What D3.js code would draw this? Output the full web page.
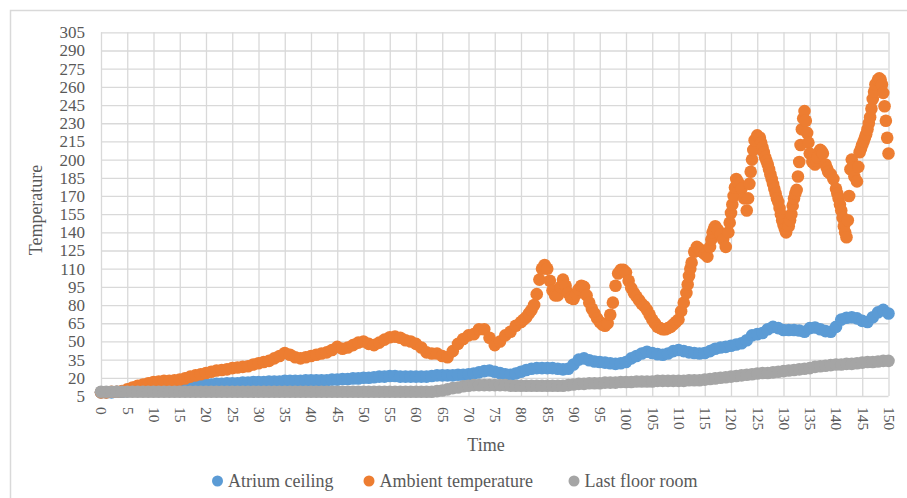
<!DOCTYPE html>
<html><head><meta charset="utf-8">
<script src="https://cdn.jsdelivr.net/npm/d3@7"></script>
<style>body{margin:0;background:#fff} svg{display:block}</style>
</head><body><svg id="c" width="907" height="498"></svg>
<script>
const time = d3.range(0, 151);
const yTicks = d3.range(5, 306, 15);
const xTicks = d3.range(0, 151, 5);
const seriesNames = ["Atrium ceiling", "Ambient temperature", "Last floor room"];
const seriesColors = ["#5b9bd5", "#ed7d31", "#a5a5a5"];

const atriumTemp = [
  8, 8, 8, 8.5, 8.5,
  9, 9.5, 10, 10, 10.5, 11, 11, 11.5, 12, 12, 12.5, 13, 13, 13.5,
  14, 14.5, 14.5, 15, 15, 15.5, 15.5, 15.5, 16, 16, 16.5, 16.5, 16.5, 17, 17, 17, 17.5, 17.5, 17.5, 17.5,
  18, 18, 18, 18, 18, 18.5, 18.5, 19, 19, 19.5, 19.5, 20, 20, 20.5, 21, 21, 21.5, 21.5, 21, 21, 21, 21, 21, 21, 21.5, 22,
  22, 22, 22, 22.5, 22.5, 23, 23.5, 24.5, 25.5, 26, 25, 24, 23, 22.5, 23.5, 25, 26.5, 27.5, 28, 28, 28, 28, 27.5, 27, 27.5,
  31, 35, 36, 34.5, 33.5, 33, 32.5, 32, 31.5, 32,
  33, 36, 38, 40, 41.5, 40.5, 39.5, 39, 40, 42, 43, 42, 41, 40.5, 40, 40.5, 42, 44, 45, 45.5,
  46.5, 47.5, 48.5, 51, 55, 56, 57, 60, 62, 61, 59.5, 59.5, 59.5, 59, 58, 61, 61.5, 60, 58.5, 58,
  62, 68, 69.5, 70, 69, 67, 66, 70, 74, 76, 73
];

const lastFloorTemp = [
  8.5, 8.5, 8.5, 8.5, 8.5, 8.5, 8.5, 8.5, 8.5, 8.5, 8.5, 8.5, 8.5, 8.5, 8.5, 8.5, 8.5, 8.5, 8.5, 8.5,
  8.5, 8.5, 8.5, 8.5, 8.5, 8.5, 8.5, 8.5, 8.5, 8.5, 8.5, 8.5, 8.5, 8.5, 8.5, 8.5, 8.5, 8.5, 8.5, 8.5,
  8.5, 8.5, 8.5, 8.5, 8.5, 8.5, 8.5, 8.5, 8.5, 8.5, 8.5, 8.5, 8.5, 8.5, 8.5, 8.5, 8.5, 8.5, 8.5, 8.5,
  8.5, 8.5, 8.5, 8.5, 9,
  9.5, 10.5, 11.5, 12, 13, 13.5,
  14, 14, 14, 14, 14, 14, 14, 13.5, 13.5, 13.5, 13.5, 13.5, 13.5, 13.5, 13.5, 13.5, 13.5, 13.5, 14, 14.5,
  15, 15, 15.5, 15.5, 15.5, 16, 16, 16, 16.5, 16.5,
  16.5, 17, 17, 17, 17, 17.5, 17.5, 17.5, 17.5, 17.5,
  17.5, 18, 18, 18, 18.5, 19, 19.5, 20, 20.5, 21,
  21.5, 22, 22.5, 23, 23.5, 24, 24, 24.5, 25, 25.5,
  26, 26.5, 27, 27.5, 28, 29, 29.5, 30, 30.5, 31,
  31, 31.5, 31.5, 32, 32.5, 33, 33, 33.5, 34, 34
];

// [time, temperature] pairs (denser where the curve is steep)
const ambientPoints = [
  [0,8],[1,8],[2,8.5],[3,8.5],[4,9],[5,10.5],[6,12],[7,13.5],[8,14.5],[9,15.5],
  [10,16.5],[11,17],[12,17.5],[13,17.5],[14,18],[15,18.5],[16,19.5],[17,21],[18,22],[19,23],
  [20,24],[21,25],[22,26],[23,26.5],[24,27],[25,28],[26,28.5],[27,29],[28,29.5],[29,31],
  [30,32],[31,33],[32,34],[33,36],[34,38],[35,40.5],[36,39],[37,37],[38,36],[39,37],
  [40,38],[41,39],[42,40],[43,41],[44,43],[45,45.5],[46,44],[47,45],[48,47],[49,49],
  [50,50],[51,48],[52,47],[53,49],[54,51.5],[55,53.5],[56,54],[57,53],[58,51],[59,50],
  [60,48],[61,45],[62,41],[63,40],[64,40],[65,38],[66,37],[67,42],[68,48],[69,52],
  [70,55],[71,56],[72,60],[73,60],[74,53],[75,47],[76,50],[77,55],[78,58],[79,63],
  [80,66],[80.5,68],[81,70],[81.5,73],[82,76],[82.5,80],[83,89],[83.5,101],[84,110],[84.5,113],
  [85,110],[85.5,100],[86,92],[86.5,88],[87,88],[87.5,95],[88,101],[88.5,96],[89,90],[89.5,86],
  [90,85],[90.5,89],[91,93],[91.5,96],[92,95],[92.5,88],[93,82],[93.5,77],[94,73],[94.5,69],
  [95,66],[95.5,64],[96,63],[96.5,65],[97,72],[97.5,82],[98,96],[98.5,106],[99,109],[99.5,109],
  [100,107],[100.5,100],[101,94],[101.5,90],[102,87],[102.5,84],[103,81],[103.5,79],[104,76],[104.5,72],
  [105,68],[105.5,65],[106,62],[106.5,61],[107,60],[107.5,60],[108,61],[108.5,62],[109,64],[109.5,66],
  [110,68],[110.5,75],[111,82],[111.5,90],[111.75,97],[112,104],[112.25,110],[112.5,115],[113,124],[113.5,128],
  [113.75,127],[114,126],[114.25,125],[114.5,124],[115,122],[115.5,120],[116,128],[116.25,134],[116.5,140],[116.75,143],
  [117,145],[117.5,142],[118,138],[118.5,134],[119,128],[119.5,140],[119.75,148],[120,156],[120.25,163],[120.5,170],
  [120.75,177],[121,184],[121.25,182],[121.5,180],[122,176],[122.5,168],[123,158],[123.25,168],[123.5,180],[123.75,190],
  [124,200],[124.25,208],[124.5,216],[125,220],[125.5,218],[125.75,214],[126,210],[126.25,206],[126.5,202],[126.75,199],
  [127,196],[127.25,192],[127.5,188],[127.75,184],[128,180],[128.25,176],[128.5,172],[128.75,168],[129,165],[129.25,160],
  [129.5,155],[129.75,150],[130,146],[130.25,143],[130.5,140],[131,145],[131.25,150],[131.5,155],[131.75,162],[132,168],
  [132.25,172],[132.5,175],[132.75,186],[133,198],[133.25,212],[133.5,225],[133.75,234],[134,240],[134.25,232],[134.5,222],
  [134.75,214],[135,205],[135.5,198],[136,196],[136.25,199],[136.5,202],[137,208],[137.25,207],[137.5,205],[138,196],
  [138.25,193],[138.5,190],[139,188],[139.5,184],[140,176],[140.25,172],[140.5,168],[140.75,163],[141,158],[141.25,152],
  [141.5,145],[141.75,140],[142,136],[142.25,150],[142.5,170],[142.75,192],[143,200],[143.25,193],[143.5,186],[144,182],
  [144.25,194],[144.5,206],[144.75,209],[145,212],[145.25,215],[145.5,218],[145.75,221],[146,225],[146.25,230],[146.5,235],
  [146.75,242],[147,250],[147.25,256],[147.5,262],[148,266],[148.25,267],[148.5,266],[148.75,262],[149,255],[149.25,244],
  [149.5,232],[149.75,218],[150,205]
];

const svg = d3.select("#c");
const x = d3.scaleLinear().domain([0, 150]).range([101, 888.5]);
const y = d3.scaleLinear().domain([5, 305]).range([396, 32.3]);
const textColor = "#595959";
const serif = "'Liberation Serif', 'DejaVu Serif', serif";
const markerR = 6.3;

// outer frame
svg.append("rect").attr("x", 10.5).attr("y", 10.5).attr("width", 1000).attr("height", 1000)
  .attr("fill", "#fff").attr("stroke", "#d9d9d9").attr("stroke-width", 1.5);

// y axis with gridlines
const gy = svg.append("g").attr("transform", `translate(${x(0)},0)`)
  .call(d3.axisLeft(y).tickValues(yTicks).tickSize(-(x(150) - x(0))).tickPadding(16));
gy.select(".domain").remove();
gy.selectAll(".tick line").attr("stroke", "#d9d9d9").attr("stroke-width", 1.3);
gy.selectAll(".tick text").attr("fill", textColor).style("font-family", serif).style("font-size", "17px");

// x axis with gridlines
const gx = svg.append("g").attr("transform", `translate(0,${y(5)})`)
  .call(d3.axisBottom(x).tickValues(xTicks).tickSize(-(y(5) - y(305))));
gx.select(".domain").remove();
gx.selectAll(".tick line").attr("stroke", "#d9d9d9").attr("stroke-width", 1.3);
gx.selectAll(".tick text").attr("fill", textColor).style("font-family", serif).style("font-size", "15.5px")
  .attr("x", 0).attr("y", 0).attr("dy", "0.33em").style("text-anchor", "start")
  .attr("transform", "translate(0,11) rotate(90)");

// series
const series = [
  { name: seriesNames[0], color: seriesColors[0], pts: time.map((t, i) => [t, atriumTemp[i]]) },
  { name: seriesNames[1], color: seriesColors[1], pts: ambientPoints },
  { name: seriesNames[2], color: seriesColors[2], pts: time.map((t, i) => [t, lastFloorTemp[i]]) }
];
series.forEach(s => {
  svg.append("g").selectAll("circle").data(s.pts).join("circle")
    .attr("cx", d => x(d[0])).attr("cy", d => y(d[1])).attr("r", markerR)
    .attr("fill", s.color);
});

// axis titles
svg.append("text").attr("x", 486).attr("y", 451).attr("text-anchor", "middle")
  .attr("fill", textColor).style("font-family", serif).style("font-size", "18px").text("Time");
svg.append("text").attr("transform", "translate(42,210) rotate(-90)").attr("text-anchor", "middle")
  .attr("fill", textColor).style("font-family", serif).style("font-size", "18px").text("Temperature");

// legend
const legendX = [217.5, 369, 574];
const lg = svg.append("g");
series.forEach((s, i) => {
  lg.append("circle").attr("cx", legendX[i]).attr("cy", 481).attr("r", 5.5).attr("fill", s.color);
  lg.append("text").attr("x", legendX[i] + 10.5).attr("y", 481).attr("dy", "0.35em")
    .attr("fill", textColor).style("font-family", serif).style("font-size", "18px").text(s.name);
});
</script>
</body></html>
